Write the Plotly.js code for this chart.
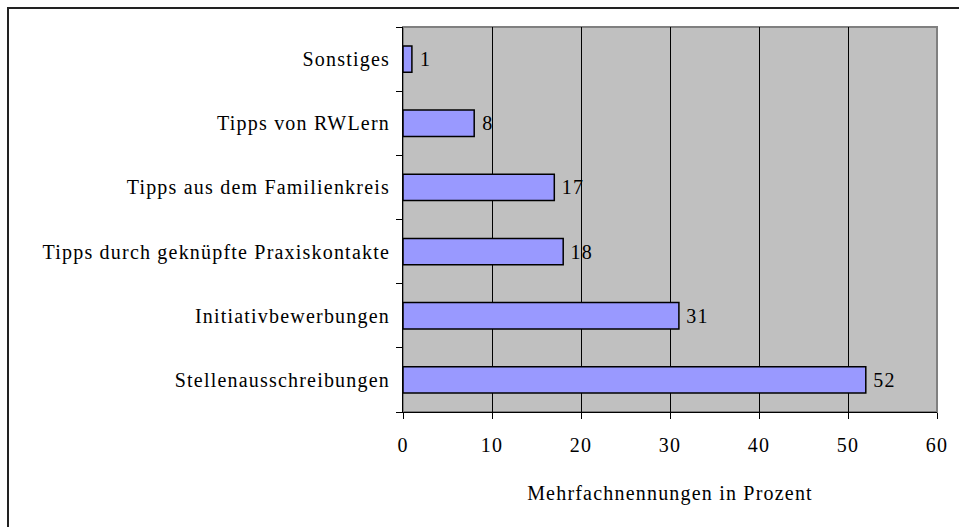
<!DOCTYPE html>
<html>
<head>
<meta charset="utf-8">
<script src="https://cdn.plot.ly/plotly-3.0.1.min.js"></script>
<style>
  html, body { margin: 0; padding: 0; background: #fff; overflow: hidden; }
  #wrap { position: relative; width: 959px; height: 527px; }
  #chart { width: 959px; height: 527px; }
  #frame {
    position: absolute; left: 7px; top: 7px; width: 980px; height: 560px;
    border: 2px solid #222; pointer-events: none;
  }
  #chart text { letter-spacing: 1.2px; }
</style>
</head>
<body>
<div id="wrap">
  <div id="chart"></div>
  <div id="frame"></div>
</div>
<script>
// bottom to top, as in the picture
const categories = [
  "Stellenausschreibungen",
  "Initiativbewerbungen",
  "Tipps durch geknüpfte Praxiskontakte",
  "Tipps aus dem Familienkreis",
  "Tipps von RWLern",
  "Sonstiges",
];
const percents = [52, 31, 18, 17, 8, 1];
const xTicks = [0, 10, 20, 30, 40, 50, 60];

const serif = { family: "'Liberation Serif', serif", size: 20, color: "#000" };

const trace = {
  type: "bar",
  orientation: "h",
  y: categories,
  x: percents,
  text: percents.map((v) => "\u00a0" + v),
  textposition: "outside",
  textfont: serif,
  cliponaxis: false,
  marker: { color: "#9999ff", line: { color: "#000", width: 1.5 } },
  hoverinfo: "none",
};

const layout = {
  width: 959,
  height: 527,
  margin: { l: 403, r: 22, t: 27, b: 115 },
  paper_bgcolor: "#fff",
  plot_bgcolor: "#c0c0c0",
  font: serif,
  showlegend: false,
  bargap: 0.59,
  xaxis: {
    range: [0, 60],
    tickvals: xTicks,
    ticks: "outside",
    ticklen: 6,
    tickcolor: "#000",
    showline: true,
    linecolor: "#000",
    linewidth: 1,
    showgrid: true,
    gridcolor: "#000",
    gridwidth: 1,
    zeroline: false,
    tickfont: serif,
    ticklabelstandoff: 9,
    title: { text: "Mehrfachnennungen in Prozent", font: serif, standoff: 30 },
  },
  yaxis: {
    type: "category",
    categoryorder: "array",
    categoryarray: categories,
    ticks: "outside",
    tickson: "boundaries",
    ticklen: 6,
    tickcolor: "#000",
    showline: true,
    linecolor: "#000",
    linewidth: 1,
    showgrid: false,
    zeroline: false,
    tickfont: serif,
    ticklabelstandoff: 8,
  },
  shapes: [
    {
      type: "rect", xref: "paper", yref: "paper", x0: 0, x1: 1, y0: 0, y1: 1,
      line: { color: "#808080", width: 2 }, layer: "below",
    },
  ],
};

Plotly.newPlot("chart", [trace], layout, { displayModeBar: false, staticPlot: true });
</script>
</body>
</html>
